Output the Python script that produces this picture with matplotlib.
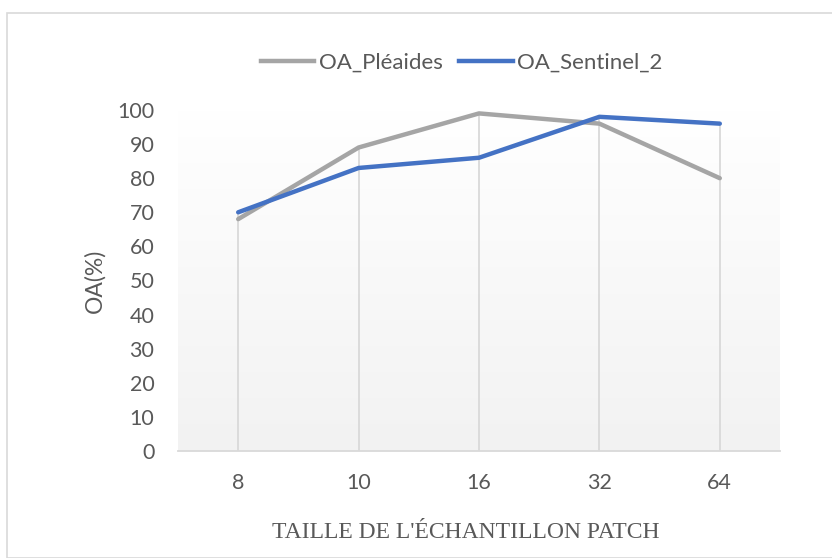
import numpy as np
import matplotlib.pyplot as plt
from matplotlib.patches import Rectangle
from matplotlib.lines import Line2D

patch_sizes = ['8', '10', '16', '32', '64']
oa_pleiades = [68, 89, 99, 96, 80]
oa_sentinel2 = [70, 83, 86, 98, 96]
y_ticks = [0, 10, 20, 30, 40, 50, 60, 70, 80, 90, 100]

GREY = '#a5a5a5'
BLUE = '#4472c4'
TXT = '#595959'
GRID = '#d9d9d9'

plt.rcParams['font.family'] = ['Lato', 'DejaVu Sans']

fig = plt.figure(figsize=(8.32, 5.58), dpi=100)
W, H = 832, 558

# outer chart frame
fig.patches.append(Rectangle((7 / W, 0), 1, 1 - 13 / H, transform=fig.transFigure,
                             fill=False, edgecolor=GRID, linewidth=1.2))

ax = fig.add_axes([178 / W, 1 - 451 / H, (780 - 178) / W, (451 - 110) / H])
x = np.arange(len(patch_sizes))
ax.set_xlim(-0.5, len(patch_sizes) - 0.5)
ax.set_ylim(0, 100)

# plot area fill, white at top fading to light grey
grad = np.linspace(1.0, 0.0, 256).reshape(-1, 1)
top = np.array([1.0, 1.0, 1.0])
bot = np.array([0xf2, 0xf2, 0xf2]) / 255
img = top[None, None, :] * grad[:, :, None] + bot[None, None, :] * (1 - grad[:, :, None])
ax.imshow(img, extent=[-0.5, len(patch_sizes) - 0.5, 0, 100], aspect='auto', zorder=0)

# drop lines
tops = np.maximum(oa_pleiades, oa_sentinel2)
ax.vlines(x, 0, tops, color=GRID, linewidth=1.3, zorder=1)

ax.plot(x, oa_pleiades, color=GREY, linewidth=3.2, solid_capstyle='round', zorder=3)
ax.plot(x, oa_sentinel2, color=BLUE, linewidth=3.2, solid_capstyle='round', zorder=4)

for s in ['top', 'right', 'left']:
    ax.spines[s].set_visible(False)
ax.spines['bottom'].set_color(GRID)
ax.spines['bottom'].set_linewidth(1.3)

ax.set_xticks(x)
ax.set_xticklabels(patch_sizes)
ax.set_yticks(y_ticks)
ax.tick_params(axis='both', length=0, labelsize=15.5, labelcolor=TXT)
ax.tick_params(axis='x', pad=16)
ax.tick_params(axis='y', pad=17)

ax.set_ylabel('OA(%)', fontsize=16.5, color=TXT)
ax.yaxis.set_label_coords(-(178 - 95) / 602, 0.5)
ax.set_xlabel("TAILLE DE L'ÉCHANTILLON PATCH", fontsize=17, color=TXT,
              family='Liberation Serif')
ax.xaxis.set_label_coords((466 - 178) / 602, -(533 - 451) / 341)
ax.xaxis.label.set_verticalalignment('center')
ax.yaxis.label.set_verticalalignment('center')

handles = [Line2D([], [], color=GREY, linewidth=3.2),
           Line2D([], [], color=BLUE, linewidth=3.2)]
leg = fig.legend(handles, ['OA_Pléaides', 'OA_Sentinel_2'], loc='center',
                 bbox_to_anchor=(462 / W, 1 - 63 / H), ncol=2, frameon=False,
                 fontsize=16, handlelength=2.4, handletextpad=0.22, columnspacing=0.72)
for t in leg.get_texts():
    t.set_color(TXT)

fig.savefig('out.png', dpi=100, facecolor='white')
